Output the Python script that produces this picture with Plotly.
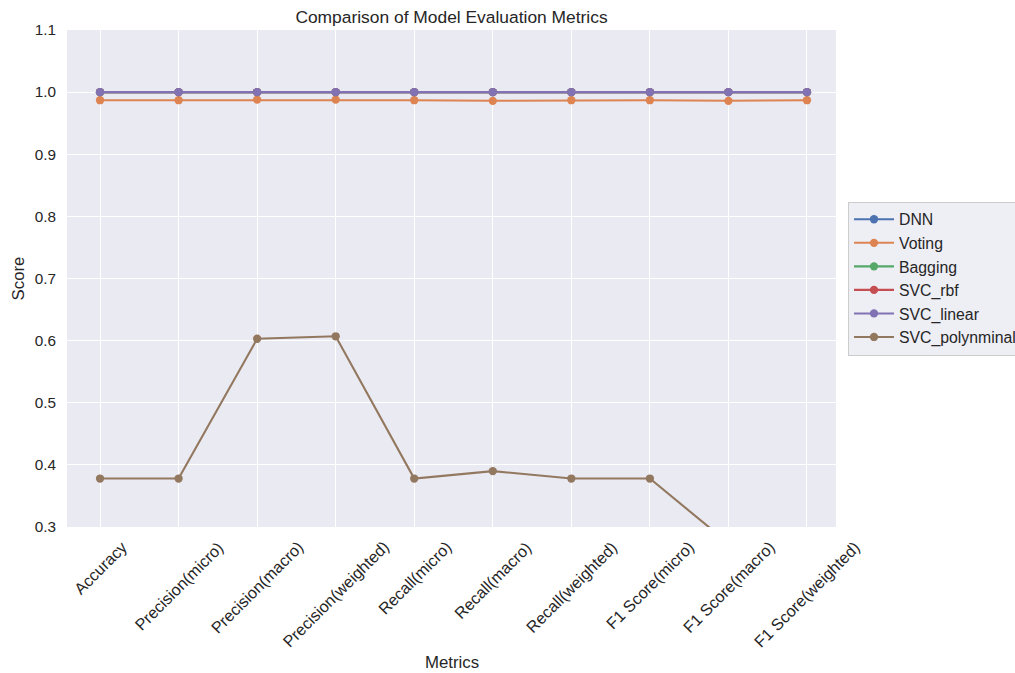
import plotly.graph_objects as go

metrics = ["Accuracy", "Precision(micro)", "Precision(macro)", "Precision(weighted)",
           "Recall(micro)", "Recall(macro)", "Recall(weighted)",
           "F1 Score(micro)", "F1 Score(macro)", "F1 Score(weighted)"]

dnn = [1.0, 1.0, 1.0, 1.0, 1.0, 1.0, 1.0, 1.0, 1.0, 1.0]
voting = [0.987, 0.987, 0.988, 0.988, 0.987, 0.986, 0.987, 0.987, 0.986, 0.987]
bagging = [1.0, 1.0, 1.0, 1.0, 1.0, 1.0, 1.0, 1.0, 1.0, 1.0]
svc_rbf = [1.0, 1.0, 1.0, 1.0, 1.0, 1.0, 1.0, 1.0, 1.0, 1.0]
svc_linear = [1.0, 1.0, 1.0, 1.0, 1.0, 1.0, 1.0, 1.0, 1.0, 1.0]
svc_poly = [0.378, 0.378, 0.603, 0.607, 0.378, 0.390, 0.378, 0.378, 0.274, 0.21]

series = [("DNN", dnn, "#4C72B0"), ("Voting", voting, "#DD8452"),
          ("Bagging", bagging, "#55A868"), ("SVC_rbf", svc_rbf, "#C44E52"),
          ("SVC_linear", svc_linear, "#8172B3"), ("SVC_polynminal", svc_poly, "#937860")]

FONT = "Liberation Sans, Arial, sans-serif"
TXT = "#262626"

fig = go.Figure()
xs = list(range(len(metrics)))
for name, vals, col in series:
    fig.add_trace(go.Scatter(x=xs, y=vals, name=name, mode="lines+markers",
                             line=dict(color=col, width=2.1),
                             marker=dict(color=col, size=8.3)))

annotations = []
for i, m in enumerate(metrics):
    annotations.append(dict(x=i, y=0, xref="x", yref="paper", text=m, showarrow=False,
                            textangle=-45, xanchor="center", yanchor="top", yshift=-8,
                            font=dict(family=FONT, size=16.2, color=TXT)))
annotations.append(dict(x=0.5, y=(527 - 662) / 497, xref="paper", yref="paper", text="Metrics",
                        showarrow=False, xanchor="center", yanchor="middle",
                        font=dict(family=FONT, size=16.8, color=TXT)))

fig.update_layout(
    width=1015, height=673,
    margin=dict(l=67, r=177, t=30, b=146),
    paper_bgcolor="white", plot_bgcolor="#EAEAF2",
    font=dict(family=FONT, color=TXT),
    title=dict(text="Comparison of Model Evaluation Metrics", x=0.5, xref="paper",
               y=1 - 17 / 673, yref="container", yanchor="middle", xanchor="center",
               font=dict(family=FONT, size=17.4, color=TXT)),
    xaxis=dict(range=[-0.4207, 9.3697], tickvals=xs, showticklabels=False,
               showgrid=True, gridcolor="white", gridwidth=1.3, zeroline=False,
               showline=False, ticks=""),
    yaxis=dict(range=[0.3, 1.1], tickvals=[0.3, 0.4, 0.5, 0.6, 0.7, 0.8, 0.9, 1.0, 1.1],
               tickformat=".1f", showgrid=True, gridcolor="white", gridwidth=1.3,
               zeroline=False, showline=False, ticks="", ticklen=0, ticklabelstandoff=10,
               tickfont=dict(family=FONT, size=15.3, color=TXT),
               title=dict(text="Score", standoff=5, font=dict(family=FONT, size=16.8, color=TXT))),
    legend=dict(x=848 / 1015, y=1 - 278.5 / 673, xref="container", yref="container",
                xanchor="left", yanchor="middle", itemwidth=40,
                bgcolor="rgba(234,234,242,0.8)", bordercolor="#cccccc", borderwidth=1,
                font=dict(family=FONT, size=15.8, color=TXT), tracegroupgap=0),
    annotations=annotations,
    showlegend=True,
)

fig.write_html("out.html", config={"displayModeBar": False},
               post_script="document.body.style.margin='0';document.body.style.overflow='hidden';")
